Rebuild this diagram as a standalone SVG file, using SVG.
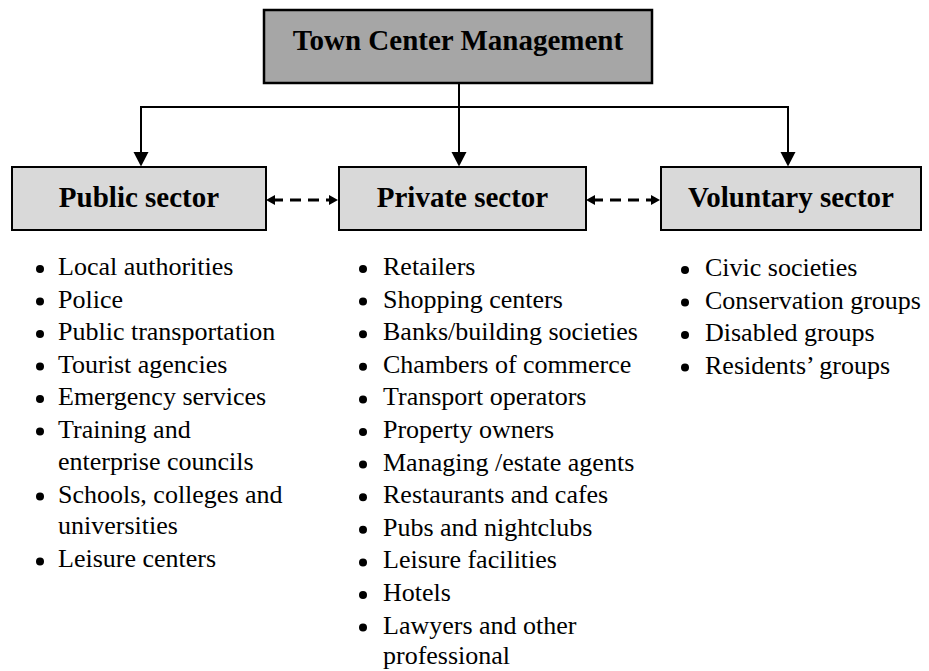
<svg xmlns="http://www.w3.org/2000/svg" width="929" height="671" viewBox="0 0 929 671">
<style>
.box{fill:#d9d9d9;stroke:#000;stroke-width:2}
.top{fill:#a6a6a6;stroke:#000;stroke-width:2.5}
.hd{font-family:"Liberation Serif","Times New Roman",serif;font-weight:bold;font-size:29px;text-anchor:middle;fill:#000}
.it{font-family:"Liberation Serif","Times New Roman",serif;font-size:26px;fill:#000}
.ln{stroke:#000;stroke-width:2;fill:none}
.dash{stroke:#000;stroke-width:3;fill:none;stroke-dasharray:11 7}
</style>
<rect width="929" height="671" fill="#fff"/>
<g id="connectors">
  <line class="ln" x1="459" y1="83" x2="459" y2="153"/>
  <line class="ln" x1="141" y1="107" x2="788" y2="107"/>
  <line class="ln" x1="141" y1="106" x2="141" y2="153"/>
  <line class="ln" x1="788" y1="106" x2="788" y2="153"/>
  <polygon points="133.5,152 148.5,152 141,166.5"/>
  <polygon points="451.5,152 466.5,152 459,166.5"/>
  <polygon points="780.5,152 795.5,152 788,166.5"/>
  <line class="dash" x1="272" y1="200" x2="331" y2="200"/>
  <polygon points="266,200 275,195 275,205"/>
  <polygon points="338,200 329,195 329,205"/>
  <line class="dash" x1="592" y1="200" x2="651" y2="200"/>
  <polygon points="586,200 595,195 595,205"/>
  <polygon points="660,200 651,195 651,205"/>
</g>
<g id="town-center-management">
  <rect class="top" x="264" y="10" width="388" height="73"/>
  <text class="hd" x="458" y="50">Town Center Management</text>
</g>
<g id="public-sector">
  <rect class="box" x="12" y="167" width="254" height="63"/>
  <text class="hd" x="139" y="207">Public sector</text>
</g>
<g id="private-sector">
  <rect class="box" x="339" y="167" width="247" height="63"/>
  <text class="hd" x="462.5" y="207">Private sector</text>
</g>
<g id="voluntary-sector">
  <rect class="box" x="661" y="167" width="260" height="63"/>
  <text class="hd" x="791" y="207">Voluntary sector</text>
</g>
<g id="public-list">
  <g fill="#000">
    <circle cx="40" cy="269" r="4"/><circle cx="40" cy="301.5" r="4"/><circle cx="40" cy="334" r="4"/>
    <circle cx="40" cy="366.5" r="4"/><circle cx="40" cy="399" r="4"/><circle cx="40" cy="431.5" r="4"/>
    <circle cx="40" cy="496.5" r="4"/><circle cx="40" cy="561.5" r="4"/>
  </g>
  <text class="it" x="58" y="275">Local authorities</text>
  <text class="it" x="58" y="307.5">Police</text>
  <text class="it" x="58" y="340">Public transportation</text>
  <text class="it" x="58" y="372.5">Tourist agencies</text>
  <text class="it" x="58" y="405">Emergency services</text>
  <text class="it" x="58" y="437.5">Training and</text>
  <text class="it" x="58" y="469.5">enterprise councils</text>
  <text class="it" x="58" y="502.5">Schools, colleges and</text>
  <text class="it" x="58" y="533.5">universities</text>
  <text class="it" x="58" y="567">Leisure centers</text>
</g>
<g id="private-list">
  <g fill="#000">
    <circle cx="363" cy="269" r="4"/><circle cx="363" cy="301.6" r="4"/><circle cx="363" cy="334.2" r="4"/>
    <circle cx="363" cy="366.8" r="4"/><circle cx="363" cy="399.4" r="4"/><circle cx="363" cy="432" r="4"/>
    <circle cx="363" cy="464.6" r="4"/><circle cx="363" cy="497.2" r="4"/><circle cx="363" cy="529.8" r="4"/>
    <circle cx="363" cy="562.4" r="4"/><circle cx="363" cy="595" r="4"/><circle cx="363" cy="627.6" r="4"/>
  </g>
  <text class="it" x="383" y="275">Retailers</text>
  <text class="it" x="383" y="307.6">Shopping centers</text>
  <text class="it" x="383" y="340.2">Banks/building societies</text>
  <text class="it" x="383" y="372.8">Chambers of commerce</text>
  <text class="it" x="383" y="405.4">Transport operators</text>
  <text class="it" x="383" y="438">Property owners</text>
  <text class="it" x="383" y="470.6">Managing /estate agents</text>
  <text class="it" x="383" y="503.2">Restaurants and cafes</text>
  <text class="it" x="383" y="535.8">Pubs and nightclubs</text>
  <text class="it" x="383" y="568.4">Leisure facilities</text>
  <text class="it" x="383" y="601">Hotels</text>
  <text class="it" x="383" y="633.6">Lawyers and other</text>
  <text class="it" x="383" y="663.5">professional</text>
</g>
<g id="voluntary-list">
  <g fill="#000">
    <circle cx="685" cy="270" r="4"/><circle cx="685" cy="302.5" r="4"/><circle cx="685" cy="335" r="4"/><circle cx="685" cy="367.5" r="4"/>
  </g>
  <text class="it" x="705" y="276">Civic societies</text>
  <text class="it" x="705" y="308.5">Conservation groups</text>
  <text class="it" x="705" y="341">Disabled groups</text>
  <text class="it" x="705" y="373.5">Residents’ groups</text>
</g>
</svg>
